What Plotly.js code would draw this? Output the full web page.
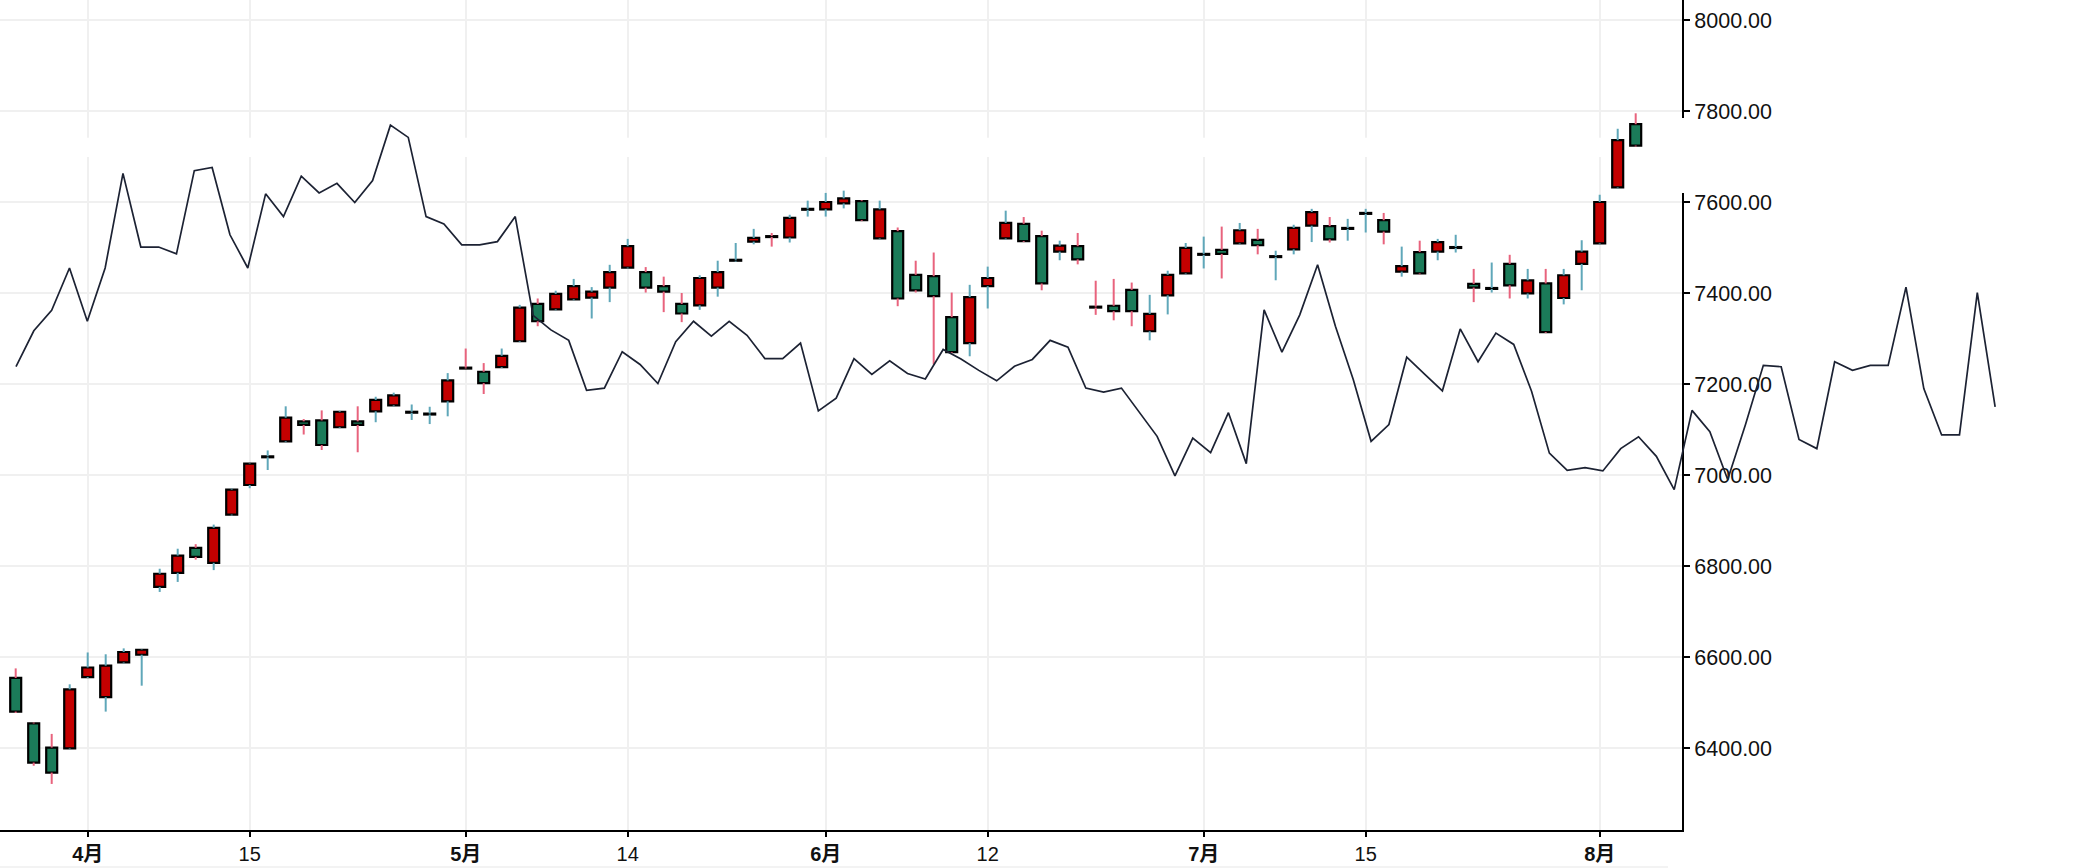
<!DOCTYPE html>
<html>
<head>
<meta charset="utf-8">
<script src="https://cdn.plot.ly/plotly-3.0.1.min.js"></script>
<style>
  html, body { margin: 0; padding: 0; background: #ffffff; }
  #chart { width: 2085px; height: 868px; }
</style>
</head>
<body>
<div id="chart"></div>
<script>
// ---- data ----
const openP  = [6554,6454,6401,6399,6556,6512,6588,6605,6754,6785,6840,6807,6913,6978,7039,7074,7118,7120,7105,7118,
                7140,7153,7137,7133,7162,7236,7227,7237,7294,7376,7364,7386,7390,7412,7456,7446,7415,7376,7373,7412,
                7471,7513,7525,7522,7583,7584,7597,7602,7520,7536,7440,7437,7347,7290,7415,7520,7552,7525,7491,7503,
                7370,7372,7407,7316,7395,7443,7484,7495,7509,7517,7479,7496,7548,7547,7541,7574,7560,7447,7490,7491,
                7499,7420,7409,7464,7399,7421,7389,7464,7509,7632,7771];
const highP  = [6575,6456,6431,6540,6610,6606,6619,6617,6794,6838,6848,6891,6970,7026,7054,7151,7123,7142,7141,7151,
                7172,7181,7155,7150,7224,7278,7246,7278,7374,7388,7405,7431,7413,7462,7519,7457,7436,7400,7439,7471,
                7510,7541,7532,7572,7603,7620,7625,7604,7603,7544,7471,7489,7401,7418,7458,7581,7567,7537,7515,7532,
                7427,7431,7423,7396,7449,7510,7524,7546,7554,7541,7493,7550,7585,7567,7563,7585,7576,7502,7515,7519,
                7528,7453,7467,7484,7453,7453,7453,7516,7616,7761,7795];
const lowP   = [6477,6361,6321,6397,6554,6480,6586,6537,6743,6765,6814,6791,6911,6971,7011,7072,7089,7055,7103,7050,
                7116,7151,7121,7112,7129,7233,7178,7235,7292,7327,7362,7384,7344,7380,7454,7401,7358,7336,7363,7392,
                7469,7507,7502,7511,7568,7568,7586,7558,7518,7371,7401,7243,7268,7261,7366,7518,7512,7406,7472,7463,
                7352,7340,7327,7296,7353,7441,7454,7432,7507,7485,7428,7485,7512,7511,7515,7533,7507,7436,7441,7472,
                7489,7380,7401,7388,7388,7312,7375,7406,7507,7630,7722];
const closeP = [6480,6368,6346,6529,6577,6581,6611,6616,6783,6823,6820,6884,6968,7025,7041,7126,7110,7066,7139,7110,
                7165,7175,7139,7135,7208,7234,7202,7262,7368,7338,7398,7415,7403,7446,7503,7412,7403,7355,7433,7446,
                7473,7521,7523,7565,7585,7600,7608,7560,7584,7388,7406,7393,7270,7391,7433,7554,7514,7421,7504,7474,
                7368,7360,7360,7354,7440,7499,7486,7486,7538,7505,7481,7543,7578,7518,7543,7576,7535,7459,7443,7512,
                7501,7412,7411,7417,7428,7314,7439,7491,7600,7736,7724];

// second series (thin dark line), one value per step
const lineVals = [7238,7317,7362,7455,7338,7455,7663,7501,7501,7486,7669,7676,7528,7455,7618,7568,7657,7620,7641,7599,
                  7647,7769,7742,7568,7552,7506,7506,7513,7568,7351,7319,7296,7186,7191,7271,7243,7201,7293,7338,7305,
                  7338,7307,7256,7256,7290,7141,7169,7256,7221,7251,7223,7211,7276,7255,7230,7207,7239,7254,7296,7281,
                  7191,7182,7191,7138,7085,6998,7081,7049,7137,7025,7363,7270,7352,7462,7327,7210,7074,7111,7259,7222,
                  7185,7321,7249,7312,7287,7184,7048,7010,7016,7009,7058,7084,7041,6968,7142,7095,6990,7111,7241,7238,
                  7078,7058,7249,7230,7241,7241,7413,7190,7088,7088,7401,7150];

// x-axis tick labels (positions in bar steps)
const tickPos  = [4, 13, 25, 34, 45, 54, 66, 75, 88];
const tickText = ['<b>4月</b>', '15', '<b>5月</b>', '14', '<b>6月</b>', '12', '<b>7月</b>', '15', '<b>8月</b>'];

// ---- styling ----
const RED = '#c40000', GREEN = '#1b7b59', TEAL = '#5fa7b9', PINK = '#e8637d';
const FONT = 'Liberation Sans, Arial, "Noto Sans CJK SC", sans-serif';

const W = 2085, H = 868;
const axisPx = 1682;          // right edge of the candle plot
const barPx = 18.0, bar0Px = 15.7;
const linePx = 17.83, line0Px = 16;
const yRange = [6219.8, 8044];

const barX = openP.map((_, i) => i);
const isUp = openP.map((o, i) => closeP[i] > o);

// bodies
const bodyBase = openP.map((o, i) => Math.min(o, closeP[i]));
const bodyLen  = openP.map((o, i) => Math.abs(closeP[i] - o));
const bodyCol  = isUp.map(u => u ? RED : GREEN);

// wicks split above / below body, grouped by direction
function wicks(up) {
  const xs = [], ys = [];
  barX.forEach(i => {
    if (isUp[i] !== up) return;
    const top = Math.max(openP[i], closeP[i]);
    const bot = Math.min(openP[i], closeP[i]);
    if (highP[i] > top) { xs.push(i, i, null); ys.push(top, highP[i], null); }
    if (lowP[i] < bot)  { xs.push(i, i, null); ys.push(lowP[i], bot, null); }
  });
  return { xs, ys };
}
const wUp = wicks(true), wDn = wicks(false);

const traces = [
  { type: 'scatter', mode: 'lines', x: wUp.xs, y: wUp.ys, xaxis: 'x', yaxis: 'y',
    line: { color: TEAL, width: 2 }, hoverinfo: 'skip', showlegend: false },
  { type: 'scatter', mode: 'lines', x: wDn.xs, y: wDn.ys, xaxis: 'x', yaxis: 'y',
    line: { color: PINK, width: 2 }, hoverinfo: 'skip', showlegend: false },
  { type: 'bar', x: barX, y: bodyLen, base: bodyBase, width: 0.61, xaxis: 'x', yaxis: 'y',
    marker: { color: bodyCol, line: { color: '#000000', width: 2.2 } }, showlegend: false },
  { type: 'scatter', mode: 'lines', x: lineVals.map((_, i) => i), y: lineVals, xaxis: 'x2', yaxis: 'y2',
    line: { color: '#1c2233', width: 1.7 }, showlegend: false }
];

const xL = -bar0Px / barPx, xR = (axisPx - bar0Px) / barPx;
const layout = {
  width: W, height: H,
  margin: { l: 0, r: 0, t: 0, b: H - 830 },
  paper_bgcolor: '#ffffff', plot_bgcolor: 'rgba(0,0,0,0)',
  showlegend: false, bargap: 0,
  font: { family: FONT, color: '#111111', size: 21 },
  xaxis: {
    domain: [0, axisPx / W], range: [xL, xR], anchor: 'y',
    tickmode: 'array', tickvals: tickPos, ticktext: tickText,
    showgrid: true, gridcolor: '#f0f0f0', gridwidth: 2, zeroline: false,
    showline: true, linecolor: '#000000', linewidth: 2,
    ticks: 'outside', ticklen: 5, tickwidth: 2, tickcolor: '#000000',
    tickfont: { family: FONT, size: 20, color: '#111111' }, fixedrange: true
  },
  yaxis: {
    domain: [0, 1], range: yRange, anchor: 'x', side: 'right',
    tickmode: 'linear', tick0: 0, dtick: 200, tickformat: '.2f',
    showgrid: true, gridcolor: '#f0f0f0', gridwidth: 2, zeroline: false,
    showline: true, linecolor: '#000000', linewidth: 2,
    ticks: 'outside', ticklen: 6, tickwidth: 2, tickcolor: '#000000',
    tickfont: { family: FONT, size: 21.5, color: '#111111' }, fixedrange: true
  },
  xaxis2: {
    domain: [0, 1], anchor: 'y2', visible: false,
    range: [-line0Px / linePx, (W - line0Px) / linePx], fixedrange: true
  },
  yaxis2: { domain: [0, 1], anchor: 'x2', visible: false, range: yRange, fixedrange: true },
  shapes: [
    { type: 'rect', xref: 'x', yref: 'y', x0: xL, x1: xR, y0: 7699, y1: 7741,
      fillcolor: '#ffffff', line: { width: 0 }, layer: 'between' },
    { type: 'rect', xref: 'paper', yref: 'paper', x0: 1678 / W, x1: 1687 / W,
      y0: 1 - 193 / 830, y1: 1 - 118 / 830, fillcolor: '#ffffff', line: { width: 0 }, layer: 'above' },
    { type: 'line', xref: 'paper', yref: 'paper', x0: 0, x1: 1668 / W,
      y0: (830 - 867) / 830, y1: (830 - 867) / 830, line: { color: '#efefef', width: 1.5 } }
  ]
};

Plotly.newPlot('chart', traces, layout, { displayModeBar: false, staticPlot: true });
</script>
</body>
</html>
